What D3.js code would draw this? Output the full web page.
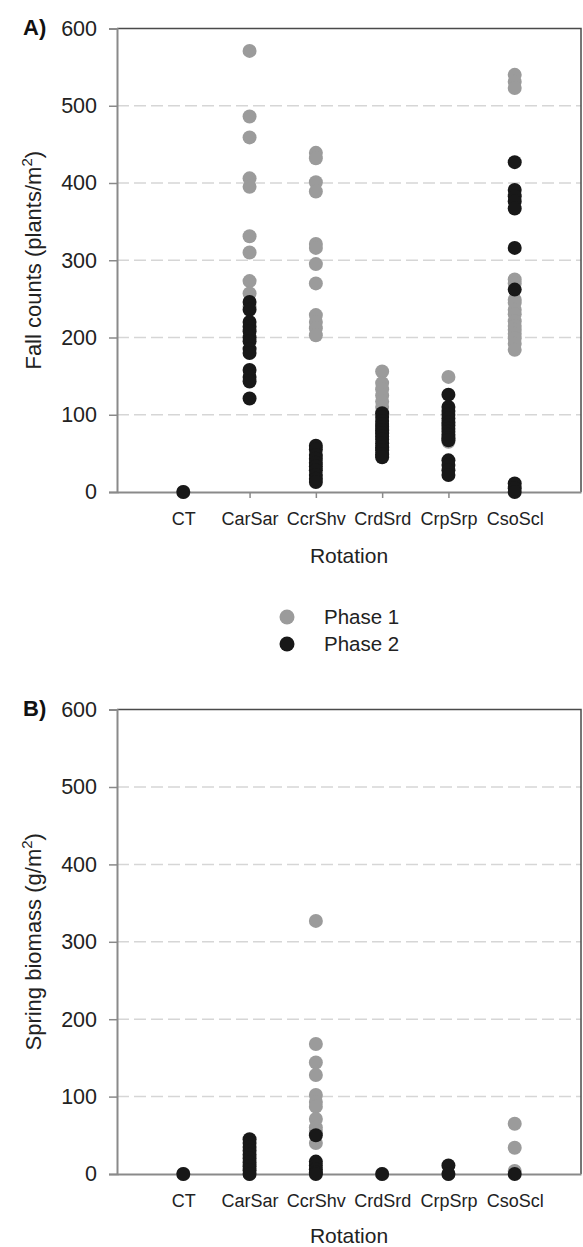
<!DOCTYPE html>
<html>
<head>
<meta charset="utf-8">
<script src="https://cdn.jsdelivr.net/npm/d3@7"></script>
<style>
  body { margin: 0; background: #fff; }
  svg { display: block; font-family: "Liberation Sans", Arial, sans-serif; }
</style>
</head>
<body>
<div id="viz"></div>
<script>
/***************** Data *********************/
var rotations = ["CT", "CarSar", "CcrShv", "CrdSrd", "CrpSrp", "CsoScl"];
var yTicks = [0, 100, 200, 300, 400, 500, 600];
var gridTicks = [100, 200, 300, 400, 500];

// one inner array per rotation, same order as rotations
var fallPhase1 = [
  [0],
  [571, 486, 459, 406, 395, 331, 310, 273, 257, 240],
  [439, 432, 401, 389, 321, 316, 295, 270, 229, 220, 212, 203],
  [156, 141, 133, 125, 117, 110],
  [149, 72, 65],
  [540, 531, 523, 275, 270, 249, 245, 236, 230, 221, 215, 210, 205, 199, 192, 184]
];
var fallPhase2 = [
  [0],
  [246, 236, 220, 214, 208, 200, 195, 185, 180, 158, 149, 143, 121],
  [60, 55, 48, 43, 38, 33, 28, 22, 17, 13],
  [102, 97, 92, 88, 84, 80, 76, 72, 68, 63, 58, 54, 49, 45],
  [126, 110, 105, 100, 95, 90, 86, 82, 78, 74, 70, 67, 41, 35, 28, 22],
  [427, 391, 383, 376, 367, 316, 262, 11, 5, 0]
];
var springPhase1 = [
  [0],
  [0],
  [327, 168, 144, 128, 102, 93, 87, 71, 60, 55, 40],
  [0],
  [0],
  [65, 34, 4]
];
var springPhase2 = [
  [0],
  [45, 40, 35, 30, 25, 20, 15, 10, 5, 0],
  [50, 16, 11, 6, 2, 0],
  [0],
  [11, 0],
  [0]
];

var phaseNames = ["Phase 1", "Phase 2"];

/***************** Layout *********************/
var W = 583, H = 1247,
    plotLeft = 117, plotRight = 581,
    font = "'Liberation Sans', Arial, sans-serif",
    phase1_color = "#9b9b9b",
    phase2_color = "#181818",
    axis_color = "#8a8a8a",
    frame_color = "#4a4a4a",
    grid_color = "#d6d6d6",
    text_color = "#222",
    r = 7;

var svg = d3.select("#viz")
    .append("svg")
    .attr("width", W)
    .attr("height", H);

var x = d3.scaleLinear().domain([0, 7]).range([plotLeft, plotRight]);

var flatten = function(series) {
  var out = [];
  series.forEach(function(vals, i) {
    vals.forEach(function(v) { out.push([i + 1, v]); });
  });
  return out;
};

var drawPanel = function(cfg) {
  var y = d3.scaleLinear().domain([0, 600]).range([cfg.bottom, cfg.top]);
  var g = svg.append("g");

  /* grid */
  g.selectAll(".grid").data(gridTicks).enter()
    .append("line")
    .attr("x1", plotLeft).attr("x2", plotRight)
    .attr("y1", function(d) { return y(d); })
    .attr("y2", function(d) { return y(d); })
    .attr("stroke", grid_color)
    .attr("stroke-width", 1.5)
    .attr("stroke-dasharray", "12,5");

  /* frame top + right */
  g.append("path")
    .attr("d", "M" + plotLeft + "," + cfg.top + "H" + plotRight + "V" + cfg.bottom)
    .attr("fill", "none")
    .attr("stroke", frame_color)
    .attr("stroke-width", 1.5);

  /* y axis */
  var yAxis = d3.axisLeft(y).tickValues(yTicks).tickSize(8).tickPadding(12);
  var ya = g.append("g")
    .attr("transform", "translate(" + plotLeft + ",0)")
    .call(yAxis);
  ya.select(".domain").attr("stroke", axis_color).attr("stroke-width", 2);
  ya.selectAll(".tick line").attr("stroke", axis_color).attr("stroke-width", 1.5);
  ya.selectAll("text")
    .attr("fill", text_color)
    .style("font-size", "21.5px")
    .style("font-family", font);

  /* x axis */
  var xAxis = d3.axisBottom(x).tickValues([1, 2, 3, 4, 5, 6])
    .tickFormat(function(d) { return rotations[d - 1]; })
    .tickSize(6).tickPadding(14).tickSizeOuter(0);
  var xa = g.append("g")
    .attr("transform", "translate(0," + cfg.bottom + ")")
    .call(xAxis);
  xa.select(".domain").attr("stroke", axis_color).attr("stroke-width", 2);
  xa.selectAll(".tick line").attr("stroke", axis_color).attr("stroke-width", 1.5);
  xa.selectAll("text")
    .attr("fill", text_color)
    .style("font-size", "18px")
    .style("font-family", font);

  /* points: phase 1 below, phase 2 on top */
  [cfg.p1, cfg.p2].forEach(function(series, k) {
    g.append("g").selectAll("circle").data(flatten(series)).enter()
      .append("circle")
      .attr("cx", function(d) { return x(d[0]); })
      .attr("cy", function(d) { return y(d[1]); })
      .attr("r", r)
      .attr("fill", k === 0 ? phase1_color : phase2_color);
  });

  /* panel letter */
  g.append("text")
    .attr("x", 23).attr("y", cfg.top + 6)
    .style("font-size", "22px")
    .style("font-weight", "bold")
    .attr("fill", "#111")
    .text(cfg.letter);

  /* y title */
  var yt = g.append("text")
    .attr("transform", "translate(41," + ((cfg.top + cfg.bottom) / 2) + ") rotate(-90)")
    .attr("text-anchor", "middle")
    .style("font-size", "22px")
    .attr("fill", text_color);
  yt.append("tspan").text(cfg.yLabel);
  yt.append("tspan").attr("dy", -9).style("font-size", "15px").text("2");
  yt.append("tspan").attr("dy", 9).text(")");

  /* x title */
  g.append("text")
    .attr("x", (plotLeft + plotRight) / 2)
    .attr("y", cfg.bottom + cfg.titleOffset)
    .attr("text-anchor", "middle")
    .style("font-size", "21px")
    .attr("fill", text_color)
    .text("Rotation");

  return y;
};

drawPanel({ top: 28.5, bottom: 492, p1: fallPhase1, p2: fallPhase2,
            letter: "A)", yLabel: "Fall counts (plants/m", titleOffset: 71 });
drawPanel({ top: 709.6, bottom: 1174, p1: springPhase1, p2: springPhase2,
            letter: "B)", yLabel: "Spring biomass (g/m", titleOffset: 69 });

/***************** Legend *********************/
var legend = svg.append("g").selectAll("g").data(phaseNames).enter()
  .append("g")
  .attr("transform", function(d, i) { return "translate(287," + (617 + i * 27) + ")"; });
legend.append("circle")
  .attr("r", 7.5)
  .attr("fill", function(d, i) { return i === 0 ? phase1_color : phase2_color; });
legend.append("text")
  .attr("x", 37).attr("y", 7)
  .style("font-size", "20.5px")
  .attr("fill", text_color)
  .text(function(d) { return d; });
</script>
</body>
</html>
